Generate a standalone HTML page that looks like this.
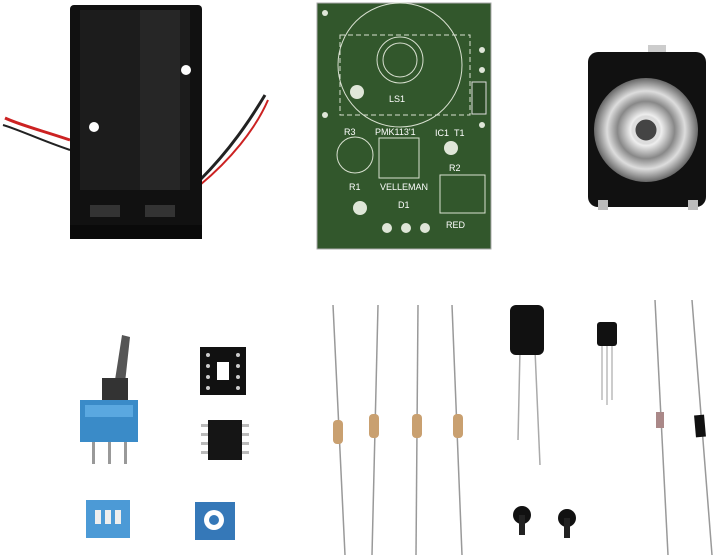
<!DOCTYPE html>
<html><head><meta charset="utf-8"><style>
html,body{margin:0;padding:0;background:#fff;width:720px;height:557px;overflow:hidden}
svg text{font-family:"Liberation Sans",sans-serif}
</style></head><body>
<svg width="720" height="557" viewBox="0 0 720 557" xmlns="http://www.w3.org/2000/svg">
<defs>
<radialGradient id="cone" cx="50%" cy="50%" r="50%">
<stop offset="0" stop-color="#555"/><stop offset="0.3" stop-color="#eee"/><stop offset="0.55" stop-color="#888"/><stop offset="0.75" stop-color="#ddd"/><stop offset="1" stop-color="#666"/></radialGradient>
</defs>
<!-- battery wires -->
<path d="M70,140 C40,130 20,125 5,118" stroke="#c22" stroke-width="3" fill="none"/>
<path d="M70,150 C40,140 20,130 3,125" stroke="#222" stroke-width="2" fill="none"/>
<path d="M200,180 C230,150 250,120 265,95" stroke="#222" stroke-width="3" fill="none"/>
<path d="M200,185 C230,160 255,130 268,100" stroke="#c22" stroke-width="2" fill="none"/>
<!-- battery holder -->
<rect x="70" y="5" width="132" height="232" rx="4" fill="#111"/>
<rect x="80" y="10" width="110" height="180" fill="#1c1c1c"/>
<rect x="140" y="10" width="40" height="180" fill="#262626"/>
<circle cx="94" cy="127" r="5" fill="#fff"/><circle cx="186" cy="70" r="5" fill="#fff"/>
<rect x="90" y="205" width="30" height="12" fill="#333"/><rect x="145" y="205" width="30" height="12" fill="#333"/>
<rect x="70" y="225" width="132" height="14" fill="#0a0a0a"/>
<!-- PCB -->
<rect x="317" y="3" width="174" height="246" fill="#32572c" stroke="#aaa" stroke-width="1"/>
<g stroke="#d8e0d0" fill="none" stroke-width="1">
<circle cx="400" cy="65" r="62"/><circle cx="400" cy="60" r="23"/><circle cx="400" cy="60" r="17"/>
<rect x="340" y="35" width="130" height="80" stroke-dasharray="5,3"/>
<rect x="379" y="138" width="40" height="40"/><rect x="440" y="175" width="45" height="38"/>
<circle cx="355" cy="155" r="18"/>
</g>
<g fill="#dfe6d8">
<circle cx="357" cy="92" r="7"/><circle cx="451" cy="148" r="7"/><circle cx="360" cy="208" r="7"/>
<circle cx="387" cy="228" r="5"/><circle cx="406" cy="228" r="5"/><circle cx="425" cy="228" r="5"/>
<circle cx="482" cy="50" r="3"/><circle cx="482" cy="70" r="3"/><circle cx="482" cy="125" r="3"/><circle cx="325" cy="13" r="3"/><circle cx="325" cy="115" r="3"/>
</g>
<g fill="#fff" font-size="9">
<text x="389" y="102">LS1</text><text x="344" y="135">R3</text><text x="375" y="135">PMK113'1</text>
<text x="435" y="136">IC1</text><text x="454" y="136">T1</text><text x="449" y="171">R2</text>
<text x="349" y="190">R1</text><text x="380" y="190">VELLEMAN</text><text x="398" y="208">D1</text>
<text x="446" y="228">RED</text>
</g>
<rect x="472" y="82" width="14" height="32" fill="#2a4a25" stroke="#ddd"/>
<!-- speaker -->
<rect x="648" y="45" width="18" height="10" fill="#ccc"/>
<rect x="588" y="52" width="118" height="155" rx="10" fill="#111"/>
<rect x="598" y="200" width="10" height="10" fill="#bbb"/><rect x="688" y="200" width="10" height="10" fill="#bbb"/>
<circle cx="646" cy="130" r="52" fill="url(#cone)"/>
<circle cx="646" cy="130" r="12" fill="#444" stroke="#ddd" stroke-width="3"/>
<!-- toggle switch -->
<path d="M115,380 L122,335 L130,337 L125,383 Z" fill="#555"/>
<rect x="102" y="378" width="26" height="22" fill="#333"/>
<rect x="80" y="400" width="58" height="42" fill="#3a8bc8"/>
<rect x="85" y="405" width="48" height="12" fill="#5aa8e0"/>
<rect x="92" y="442" width="3" height="22" fill="#999"/><rect x="108" y="442" width="3" height="22" fill="#999"/><rect x="124" y="442" width="3" height="22" fill="#999"/>
<!-- IC socket -->
<rect x="200" y="347" width="46" height="48" fill="#111"/>
<rect x="217" y="362" width="12" height="18" fill="#fff"/>
<g fill="#ccc"><circle cx="208" cy="355" r="2"/><circle cx="208" cy="366" r="2"/><circle cx="208" cy="377" r="2"/><circle cx="208" cy="388" r="2"/><circle cx="238" cy="355" r="2"/><circle cx="238" cy="366" r="2"/><circle cx="238" cy="377" r="2"/><circle cx="238" cy="388" r="2"/></g>
<!-- IC -->
<rect x="208" y="420" width="34" height="40" fill="#151515"/>
<g fill="#bbb"><rect x="201" y="424" width="7" height="3"/><rect x="201" y="433" width="7" height="3"/><rect x="201" y="442" width="7" height="3"/><rect x="201" y="451" width="7" height="3"/><rect x="242" y="424" width="7" height="3"/><rect x="242" y="433" width="7" height="3"/><rect x="242" y="442" width="7" height="3"/><rect x="242" y="451" width="7" height="3"/></g>
<!-- DIP switch -->
<rect x="86" y="500" width="44" height="38" fill="#4c9ad6"/>
<rect x="95" y="510" width="6" height="14" fill="#eee"/><rect x="105" y="510" width="6" height="14" fill="#eee"/><rect x="115" y="510" width="6" height="14" fill="#eee"/>
<!-- trimmer -->
<rect x="195" y="502" width="40" height="38" fill="#3578b8"/>
<circle cx="214" cy="520" r="10" fill="#fff"/><circle cx="214" cy="520" r="5" fill="#3578b8"/>
<!-- resistors -->
<g stroke="#999" stroke-width="1.5">
<line x1="333" y1="305" x2="345" y2="555"/><line x1="378" y1="305" x2="372" y2="555"/>
<line x1="418" y1="305" x2="416" y2="555"/><line x1="452" y1="305" x2="462" y2="555"/>
</g>
<g fill="#c9a070"><rect x="333" y="420" width="10" height="24" rx="4"/><rect x="369" y="414" width="10" height="24" rx="4"/><rect x="412" y="414" width="10" height="24" rx="4"/><rect x="453" y="414" width="10" height="24" rx="4"/></g>
<!-- capacitor -->
<line x1="520" y1="350" x2="518" y2="440" stroke="#aaa" stroke-width="1.5"/><line x1="535" y1="350" x2="540" y2="465" stroke="#aaa" stroke-width="1.5"/>
<rect x="510" y="305" width="34" height="50" rx="6" fill="#111"/>
<!-- transistor -->
<g stroke="#aaa" stroke-width="1.2"><line x1="602" y1="345" x2="602" y2="400"/><line x1="607" y1="345" x2="607" y2="405"/><line x1="612" y1="345" x2="612" y2="400"/></g>
<rect x="597" y="322" width="20" height="24" rx="3" fill="#111"/>
<!-- diodes -->
<g stroke="#999" stroke-width="1.5"><line x1="655" y1="300" x2="668" y2="555"/><line x1="692" y1="300" x2="712" y2="555"/></g>
<rect x="656" y="412" width="8" height="16" fill="#a88"/>
<rect x="695" y="415" width="10" height="22" fill="#111" transform="rotate(-5 700 426)"/>
<!-- screws -->
<circle cx="522" cy="515" r="9" fill="#111"/><rect x="519" y="515" width="6" height="20" fill="#222"/>
<circle cx="567" cy="518" r="9" fill="#111"/><rect x="564" y="518" width="6" height="20" fill="#222"/>
</svg>
</body></html>
